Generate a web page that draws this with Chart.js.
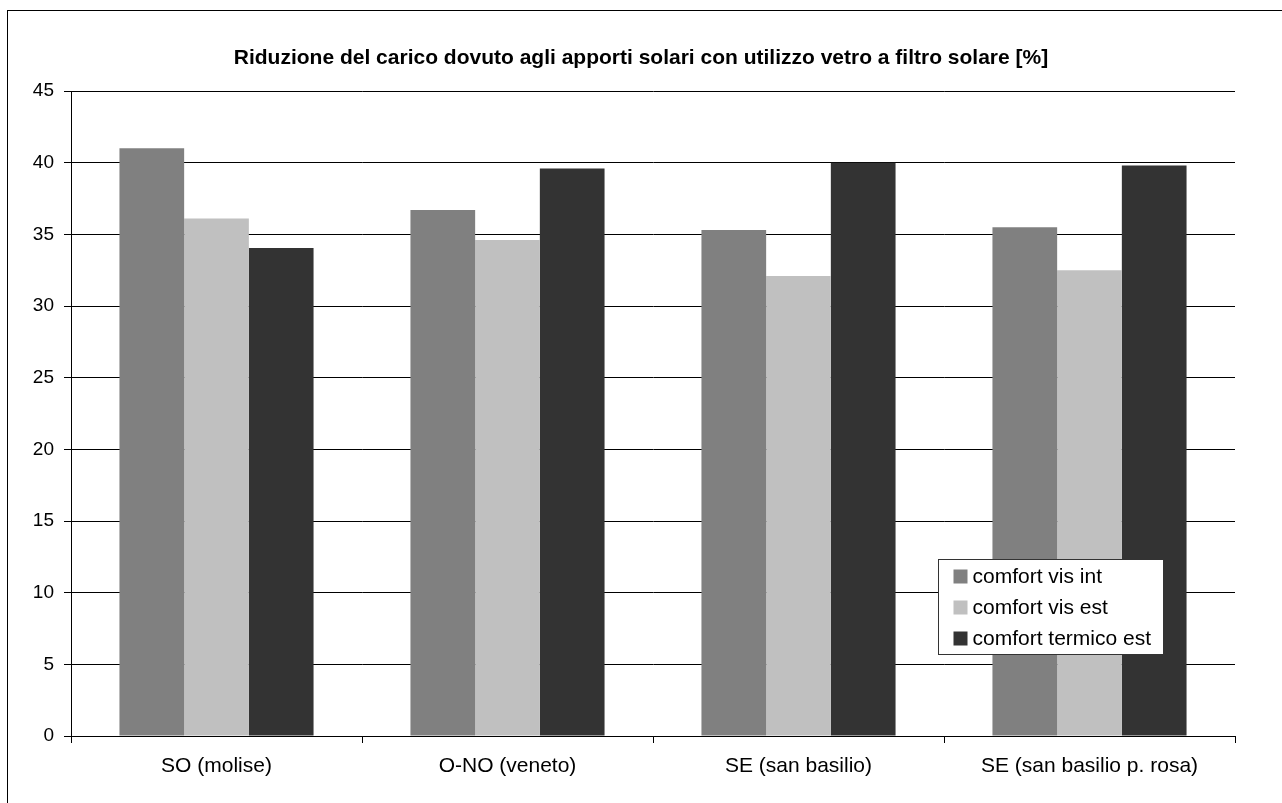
<!DOCTYPE html>
<html><head><meta charset="utf-8">
<script src="https://cdn.jsdelivr.net/npm/chart.js@4/dist/chart.umd.min.js"></script>
<style>html,body{margin:0;padding:0;background:#fff;overflow:hidden}#wrap{position:absolute;left:0;top:0;width:1282px;height:803px}</style>
</head><body><div id="wrap"><canvas id="c"></canvas></div>
<script>
const titleText = 'Riduzione del carico dovuto agli apporti solari con utilizzo vetro a filtro solare [%]';
const categories = ['SO (molise)', 'O-NO (veneto)', 'SE (san basilio)', 'SE (san basilio p. rosa)'];
const seriesNames = ['comfort vis int', 'comfort vis est', 'comfort termico est'];
const comfortVisInt = [41.0, 36.7, 35.3, 35.5];
const comfortVisEst = [36.1, 34.6, 32.1, 32.5];
const comfortTermicoEst = [34.05, 39.6, 40.0, 39.8];
const yTickValues = [0, 5, 10, 15, 20, 25, 30, 35, 40, 45];
const seriesColors = ['#808080', '#c0c0c0', '#333333'];

const FONT = "'Liberation Sans', Arial, sans-serif";

const framePlugin = {
  id: 'frame',
  beforeDraw(chart) {
    const ctx = chart.ctx;
    ctx.save();
    ctx.fillStyle = '#fff';
    ctx.fillRect(0, 0, chart.width, chart.height);
    ctx.strokeStyle = '#000';
    ctx.lineWidth = 1;
    ctx.strokeRect(7.5, 10.5, 1300, 820);
    ctx.restore();
  }
};

const boxLegend = {
  id: 'boxLegend',
  afterDraw(chart) {
    const ctx = chart.ctx;
    const ca = chart.chartArea;
    const x = ca.left + 867.5, y = ca.top + 468.5, w = 225, h = 95;
    ctx.save();
    ctx.fillStyle = '#fff';
    ctx.fillRect(x, y, w, h);
    ctx.strokeStyle = '#333';
    ctx.lineWidth = 1;
    ctx.strokeRect(x, y, w, h);
    ctx.font = '21px ' + FONT;
    ctx.textBaseline = 'middle';
    ctx.textAlign = 'left';
    chart.data.datasets.forEach((ds, i) => {
      const cy = y + 17 + i * 31;
      ctx.fillStyle = ds.backgroundColor;
      ctx.fillRect(x + 15, cy - 7, 14, 14);
      ctx.fillStyle = '#000';
      ctx.fillText(ds.label, x + 34, cy + 1);
    });
    ctx.restore();
  }
};

const seriesData = [comfortVisInt, comfortVisEst, comfortTermicoEst];

new Chart(document.getElementById('c'), {
  type: 'bar',
  data: {
    labels: categories,
    datasets: seriesNames.map((n, i) => ({
      label: n,
      data: seriesData[i],
      backgroundColor: seriesColors[i],
      borderWidth: 0,
      barPercentage: 1,
      categoryPercentage: 0.667
    }))
  },
  options: {
    responsive: true,
    maintainAspectRatio: false,
    animation: false,
    layout: { padding: { left: 0, right: 0, top: 0, bottom: 0 } },
    plugins: {
      legend: { display: false },
      tooltip: { enabled: false },
      title: {
        display: true,
        text: titleText,
        color: '#000',
        font: { family: FONT, size: 21, weight: 'bold' },
        padding: { top: 45.4, bottom: 20.4 }
      }
    },
    scales: {
      y: {
        min: 0, max: 45,
        afterBuildTicks(s) { s.ticks = yTickValues.map(v => ({ value: v })); },
        afterFit(s) { s.width = 71; },
        ticks: { color: '#000', font: { family: FONT, size: 19 }, padding: 10 },
        grid: { color: '#000', lineWidth: 1, tickLength: 7 },
        border: { color: '#000', width: 1 }
      },
      yRight: {
        position: 'right',
        min: 0, max: 45,
        afterFit(s) { s.width = 47; },
        ticks: { display: false },
        grid: { display: false, drawOnChartArea: false },
        border: { display: false }
      },
      x: {
        afterFit(s) { s.height = 67; },
        ticks: { color: '#000', font: { family: FONT, size: 21 }, padding: 11, maxRotation: 0 },
        grid: { drawOnChartArea: false, offset: true, color: '#000', tickLength: 7 },
        border: { color: '#000', width: 1 }
      }
    }
  },
  plugins: [framePlugin, boxLegend]
});
</script>
</body></html>
